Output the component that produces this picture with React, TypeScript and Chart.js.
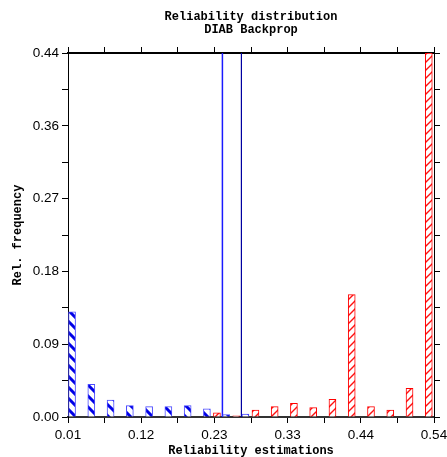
import React, { useEffect, useRef } from 'react';
import { Chart, registerables } from 'chart.js';

Chart.register(...registerables);

// left edges of the 19 histogram bins across the reliability range
const binLeft = [0.0100, 0.0379, 0.0658, 0.0937, 0.1216, 0.1495, 0.1774, 0.2053, 0.2332, 0.2611,
  0.2889, 0.3168, 0.3447, 0.3726, 0.4005, 0.4284, 0.4563, 0.4842, 0.5121];
const blueValues = [0.127, 0.0395, 0.0206, 0.0137, 0.0125, 0.0125, 0.0137, 0.010, 0.003, 0.0035, 0, 0, 0, 0, 0, 0, 0, 0, 0];
const redValues = [0, 0, 0, 0, 0, 0, 0, 0.005, 0.0015, 0.0085, 0.0125, 0.0166, 0.0113, 0.0214, 0.148, 0.0125, 0.0085, 0.0347, 0.44];

const xTickValues = [0.01, 0.116, 0.222, 0.328, 0.434, 0.54];
const xTickLabels = ['0.01', '0.12', '0.23', '0.33', '0.44', '0.54'];
const yTickValues = [0, 0.088, 0.176, 0.264, 0.352, 0.44];
const yTickLabels = ['0.00', '0.09', '0.18', '0.27', '0.36', '0.44'];

const blueMarker = 0.2336;
const darkMarker = 0.2611;

const titleLines = ['Reliability distribution', 'DIAB Backprop'];
const xTitle = 'Reliability estimations';
const yTitle = 'Rel. frequency';

// side-by-side placement of the two series inside each bin (fraction of bin width)
const blueSlot = 0.21;
const redSlot = 0.73;

function withMinor(vals: number[]): number[] {
  const out: number[] = [];
  vals.forEach((v, i) => {
    out.push(v);
    if (i < vals.length - 1) out.push((v + vals[i + 1]) / 2);
  });
  return out;
}

function hatch(color: string, size: number, lw: number, back: boolean): CanvasPattern | string {
  const c = document.createElement('canvas');
  c.width = size;
  c.height = size;
  const g = c.getContext('2d');
  if (!g) return '#fff';
  g.fillStyle = '#ffffff';
  g.fillRect(0, 0, size, size);
  g.strokeStyle = color;
  g.lineWidth = lw;
  g.beginPath();
  for (let k = -1; k <= 2; k++) {
    if (back) {
      g.moveTo(-2, -2 + k * size);
      g.lineTo(size + 2, size + 2 + k * size);
    } else {
      g.moveTo(-2, k * size + 2);
      g.lineTo(size + 2, k * size - size - 2);
    }
  }
  g.stroke();
  const p = g.createPattern(c, 'repeat');
  return p || '#fff';
}

export default function App() {
  const ref = useRef<HTMLCanvasElement>(null);

  useEffect(() => {
    document.body.style.margin = '0';
    const canvas = ref.current;
    if (!canvas) return;

    const bluePattern = hatch('#0000e6', 11, 3, true);
    const redPattern = hatch('#ff1010', 8, 1.4, false);

    const tickFont = { family: 'Liberation Sans', size: 13.5 };
    const titleFont = { family: 'Liberation Mono', size: 12, weight: 'bold' };

    const xTicksAll = withMinor(xTickValues);
    const yTicksAll = withMinor(yTickValues);
    const binWidth = binLeft[1] - binLeft[0];

    const blueData = binLeft.map((b, i) => ({ x: b + blueSlot * binWidth, y: blueValues[i] }));
    const redData = binLeft.map((b, i) => ({ x: b + redSlot * binWidth, y: redValues[i] }));

    const noPadX = (h: number) => (s: any) => {
      s.height = h;
      s.paddingLeft = 0;
      s.paddingRight = 0;
    };
    const noPadY = (w: number) => (s: any) => {
      s.width = w;
      s.paddingTop = 0;
      s.paddingBottom = 0;
    };

    const chart = new Chart(canvas, {
      type: 'bar',
      data: {
        datasets: [
          {
            type: 'bar',
            data: blueData,
            backgroundColor: bluePattern as any,
            borderColor: '#4a4aff',
            borderWidth: 1,
            xAxisID: 'x',
            yAxisID: 'y',
            grouped: false,
            barThickness: 7,
          },
          {
            type: 'bar',
            data: redData,
            backgroundColor: redPattern as any,
            borderColor: '#ff0000',
            borderWidth: 1,
            xAxisID: 'x',
            yAxisID: 'y',
            grouped: false,
            barThickness: 7,
          },
          {
            type: 'line',
            data: [{ x: blueMarker, y: 0 }, { x: blueMarker, y: 0.44 }],
            borderColor: '#1a1aff',
            borderWidth: 1.5,
            pointRadius: 0,
            xAxisID: 'x',
            yAxisID: 'y',
          },
          {
            type: 'line',
            data: [{ x: darkMarker, y: 0 }, { x: darkMarker, y: 0.44 }],
            borderColor: '#0000a0',
            borderWidth: 1.2,
            pointRadius: 0,
            xAxisID: 'x',
            yAxisID: 'y',
          },
        ] as any,
      },
      options: {
        responsive: false,
        animation: false,
        layout: { padding: 0 },
        plugins: {
          legend: { display: false },
          tooltip: { enabled: false },
          title: {
            display: true,
            text: titleLines,
            color: '#000',
            fullSize: false,
            font: { family: 'Liberation Mono', size: 12, weight: 'bold', lineHeight: '13px' } as any,
            padding: { top: 10, bottom: 0 },
          },
        },
        scales: {
          x: {
            type: 'linear',
            position: 'bottom',
            offset: false,
            min: 0.01,
            max: 0.54,
            afterBuildTicks: (s: any) => { s.ticks = xTicksAll.map((v) => ({ value: v })); },
            afterFit: noPadX(40),
            ticks: {
              autoSkip: false,
              maxRotation: 0,
              color: '#000',
              font: tickFont,
              padding: 4,
              callback: (_v: any, i: number) => (i % 2 === 0 ? xTickLabels[i / 2] : ''),
            },
            grid: { offset: false, drawOnChartArea: false, drawTicks: true, tickLength: 6, color: '#000' },
            border: { display: true, color: '#333', width: 2 },
            title: { display: true, text: xTitle, color: '#000', font: { ...titleFont, lineHeight: '12px' } as any, padding: { top: 0, bottom: 0 } },
          },
          xTop: {
            type: 'linear',
            position: 'top',
            offset: false,
            min: 0.01,
            max: 0.54,
            afterBuildTicks: (s: any) => { s.ticks = xTicksAll.map((v) => ({ value: v })); },
            afterFit: noPadX(17),
            ticks: { display: false },
            grid: { offset: false, drawOnChartArea: false, drawTicks: true, tickLength: 6, color: '#000' },
            border: { display: true, color: '#000', width: 2 },
          },
          y: {
            type: 'linear',
            position: 'left',
            min: 0,
            max: 0.44,
            afterBuildTicks: (s: any) => { s.ticks = yTicksAll.map((v) => ({ value: v })); },
            afterFit: noPadY(68),
            ticks: {
              autoSkip: false,
              color: '#000',
              font: tickFont,
              padding: 3,
              callback: (_v: any, i: number) => (i % 2 === 0 ? yTickLabels[i / 2] : ''),
            },
            grid: { drawOnChartArea: false, drawTicks: true, tickLength: 6, color: '#000' },
            border: { display: true, color: '#000', width: 1 },
            title: { display: true, text: yTitle, color: '#000', font: { ...titleFont, lineHeight: 1.2 } as any, padding: { top: 11, bottom: 0 } },
          },
          yRight: {
            type: 'linear',
            position: 'right',
            min: 0,
            max: 0.44,
            afterBuildTicks: (s: any) => { s.ticks = yTicksAll.map((v) => ({ value: v })); },
            afterFit: noPadY(13),
            ticks: { display: false },
            grid: { drawOnChartArea: false, drawTicks: true, tickLength: 6, color: '#000' },
            border: { display: true, color: '#000', width: 1 },
          },
        },
      } as any,
    });

    return () => chart.destroy();
  }, []);

  return (
    <div style={{ width: 447, height: 457 }}>
      <canvas ref={ref} width={447} height={457} style={{ display: 'block' }} />
    </div>
  );
}
